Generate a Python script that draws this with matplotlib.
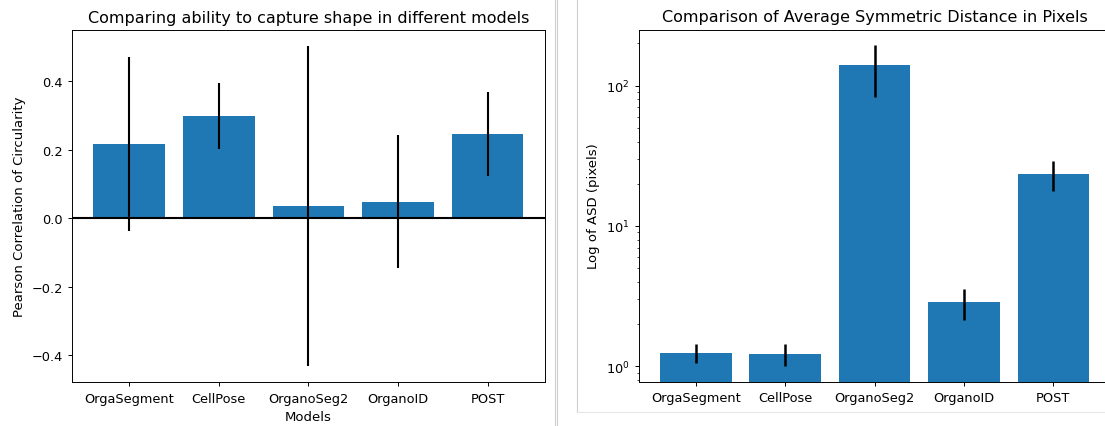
import numpy as np
import matplotlib
matplotlib.use("Agg")
import matplotlib.pyplot as plt
from matplotlib.lines import Line2D

# Data
models = ['OrgaSegment', 'CellPose', 'OrganoSeg2', 'OrganoID', 'POST']
pearson_mean = [0.218, 0.298, 0.036, 0.048, 0.245]
pearson_err = [0.254, 0.096, 0.467, 0.194, 0.123]
asd_mean = [1.25, 1.23, 139.6, 2.86, 23.4]
asd_err = [0.20, 0.22, 56.0, 0.71, 5.75]

# screenshot is a bit smaller than default matplotlib, scale fonts/lines
s = 0.864
plt.rcParams['font.size'] = 9.3
plt.rcParams['axes.labelsize'] = 9.5
plt.rcParams['axes.linewidth'] = 0.8 * s
plt.rcParams['xtick.major.size'] = 3.5 * s
plt.rcParams['ytick.major.size'] = 3.5 * s
plt.rcParams['ytick.minor.size'] = 2 * s
plt.rcParams['xtick.major.width'] = 0.8 * s
plt.rcParams['ytick.major.width'] = 0.8 * s
plt.rcParams['ytick.minor.width'] = 0.6 * s

fig = plt.figure(figsize=(11.05, 4.27), dpi=100)

# Left panel - pearson correlation
ax1 = fig.add_axes([0.0651, 0.1019, 0.4281, 0.8255])
ax1.bar(models, pearson_mean, yerr=pearson_err, color='#1f77b4',
        error_kw={'elinewidth': 1.5, 'ecolor': 'black'})
ax1.axhline(0, color='black', linewidth=1.5)
ax1.set_ylim(-0.48, 0.55)
ax1.set_title('Comparing ability to capture shape in different models', fontsize=11.5)
ax1.set_xlabel('Models')
ax1.set_ylabel('Pearson Correlation of Circularity')

# Right panel - ASD on log scale
ax2 = fig.add_axes([0.5779, 0.1042, 0.4271, 0.824])
ax2.bar(models, asd_mean, yerr=asd_err, color='#1f77b4',
        error_kw={'elinewidth': 1.8, 'ecolor': 'black'})
ax2.set_yscale('log')
ax2.set_ylim(0.777, 251)
ax2.set_title('Comparison of Average Symmetric Distance in Pixels', fontsize=11.5)
ax2.set_ylabel('Log of ASD (pixels)')

# separator between the two screenshots
W, H = 1105, 427
sep = '#cfcfcf'
for x in [554.5, 556.5]:
    fig.add_artist(Line2D([x / W, x / W], [0, 1], color=sep, linewidth=0.8))
fig.add_artist(Line2D([576.5 / W, 576.5 / W], [1, 1 - 413 / H], color=sep, linewidth=0.8))
fig.add_artist(Line2D([576.5 / W, 1], [1 - 413 / H, 1 - 413 / H], color='#e6e6e6', linewidth=0.8))

fig.savefig('out.png', dpi=100)
